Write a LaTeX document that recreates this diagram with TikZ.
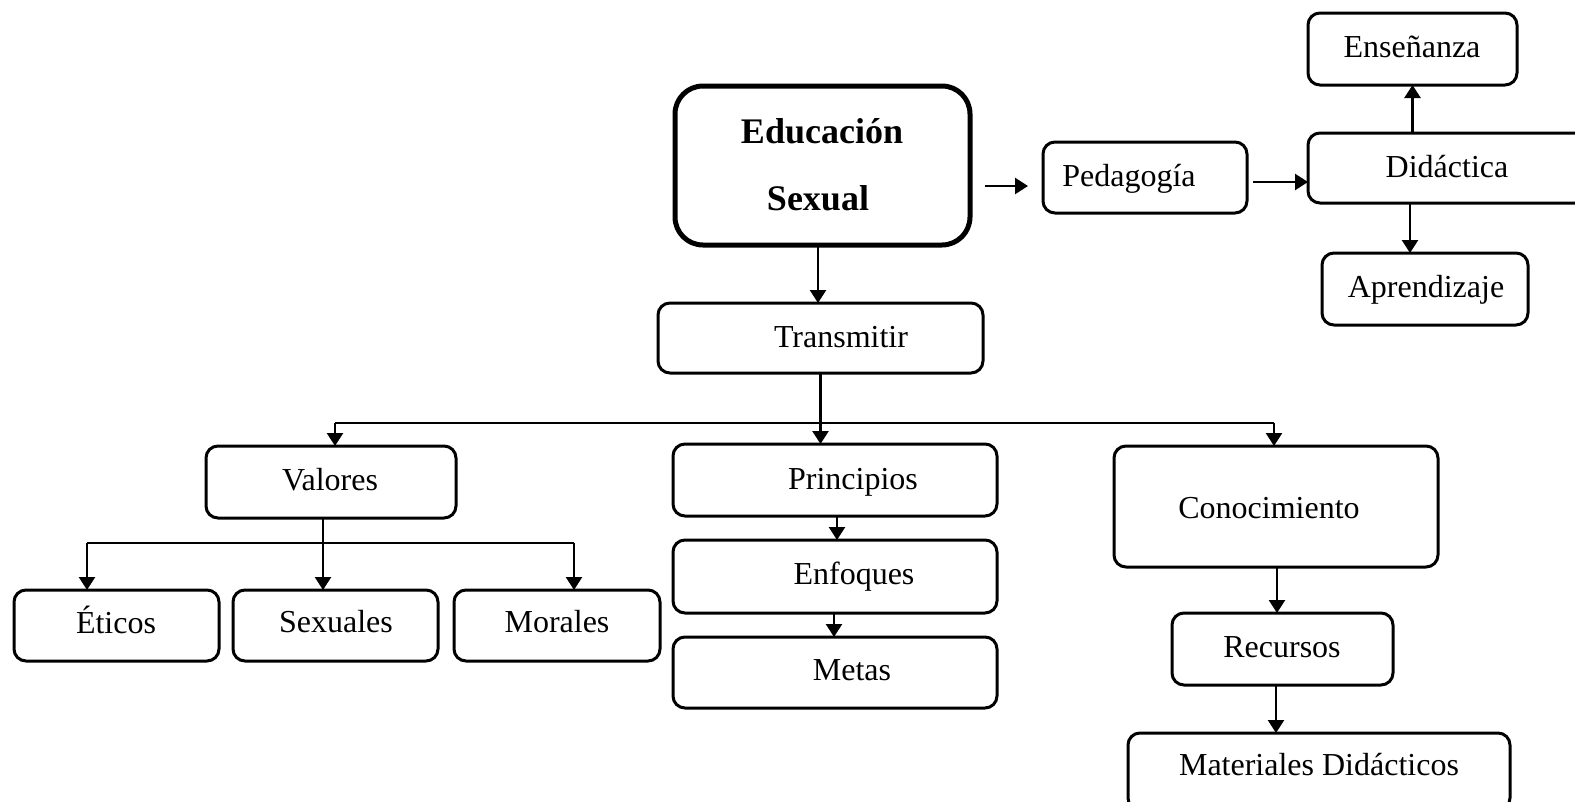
\documentclass[tikz,border=0pt]{standalone}
\usepackage{fontspec}
\setmainfont{Liberation Serif}
\usetikzlibrary{arrows.meta}
\tikzset{
  box/.style={draw=black, line width=3pt, rounded corners=12pt, inner sep=0pt, outer sep=0pt, fill=white},
  bigbox/.style={box, line width=5pt, rounded corners=28pt},
  txt/.style={anchor=base, inner sep=0pt, font=\fontsize{32}{38}\selectfont},
  btxt/.style={anchor=base, inner sep=0pt, font=\fontsize{36}{42}\selectfont\bfseries},
  arr/.style={line width=2.5pt, -{Triangle[length=13pt,width=16pt]}},
  branch/.style={line width=1.8pt}
}
\begin{document}
\begin{tikzpicture}[x=1pt,y=-1pt]
\useasboundingbox (0,0) rectangle (1575,801);
\clip (0,0) rectangle (1575,801);
\fill[white] (0,0) rectangle (1575,801);
% boxes
\node[bigbox, minimum width=295pt, minimum height=159pt] (edu) at (822.5,165.5) {};
\node[box, minimum width=204pt, minimum height=71pt] (ped) at (1145,177.5) {};
\node[box, minimum width=292pt, minimum height=70pt] (did) at (1454,168) {};
\node[box, minimum width=209pt, minimum height=72pt] (ens) at (1412.5,49) {};
\node[box, minimum width=206pt, minimum height=72pt] (apr) at (1425,289) {};
\node[box, minimum width=325pt, minimum height=70pt] (tra) at (820.5,338) {};
\node[box, minimum width=250pt, minimum height=72pt] (val) at (331,482) {};
\node[box, minimum width=205pt, minimum height=71pt] (eti) at (116.5,625.5) {};
\node[box, minimum width=205pt, minimum height=71pt] (sex) at (335.5,625.5) {};
\node[box, minimum width=206pt, minimum height=71pt] (mor) at (557,625.5) {};
\node[box, minimum width=324pt, minimum height=72pt] (pri) at (835,480) {};
\node[box, minimum width=324pt, minimum height=73pt] (enf) at (835,576.5) {};
\node[box, minimum width=324pt, minimum height=71pt] (met) at (835,672.5) {};
\node[box, minimum width=324pt, minimum height=121pt] (con) at (1276,506.5) {};
\node[box, minimum width=221pt, minimum height=72pt] (rec) at (1282.5,649) {};
\node[box, minimum width=382pt, minimum height=77pt] (mat) at (1319,771.5) {};
% texts
\node[btxt] (eduA) at (822,143) {Educación};
\node[btxt] (eduB) at (818,210) {Sexual};
\node[txt] (pedT) at (1129,186) {Pedagogía};
\node[txt] (didT) at (1447,177) {Didáctica};
\node[txt] (ensT) at (1412,57) {Enseñanza};
\node[txt] (aprT) at (1426,297) {Aprendizaje};
\node[txt] (traT) at (841,347) {Transmitir};
\node[txt] (valT) at (330,490) {Valores};
\node[txt] (etiT) at (116,633) {Éticos};
\node[txt] (sexT) at (336,632) {Sexuales};
\node[txt] (morT) at (557,632) {Morales};
\node[txt] (priT) at (853,489) {Principios};
\node[txt] (enfT) at (854,584) {Enfoques};
\node[txt] (metT) at (852,680) {Metas};
\node[txt] (conT) at (1269,518) {Conocimiento};
\node[txt] (recT) at (1282,657) {Recursos};
\node[txt] (matT) at (1319,775) {Materiales Didácticos};
% helper coordinates
\coordinate (xe) at (818,0);
\coordinate (fa) at (985,186);
\coordinate (fb) at (1028,186);
\coordinate (xd) at (1410,0);
\coordinate (bl) at (335,423);
\coordinate (br) at (1274,423);
\coordinate (xv) at (323,0);
\coordinate (vl) at (87,543);
\coordinate (vr) at (574,543);
\coordinate (xp) at (837,0);
\coordinate (xq) at (834,0);
\coordinate (xc) at (1277,0);
\coordinate (xr) at (1276,0);
% connectors
\draw[arr] (xe |- edu.south) -- (xe |- tra.north);
\draw[arr] (fa) -- (fb);
\draw[arr] ([xshift=6pt,yshift=-4.5pt]ped.east) -- ([yshift=-4.5pt]ped.east -| did.west);
\draw[arr] (ens.south |- did.north) -- (ens.south);
\draw[arr] (xd |- did.south) -- (xd |- apr.north);
\draw[arr] (tra.south) -- (tra.south |- pri.north);
\draw[branch] (bl) -- (br);
\draw[arr] (bl) -- (bl |- val.north);
\draw[arr] (br) -- (br |- con.north);
\draw[arr] (xv |- val.south) -- (xv |- sex.north);
\draw[branch] (vl) -- (vr);
\draw[arr] (vl) -- (vl |- eti.north);
\draw[arr] (vr) -- (vr |- mor.north);
\draw[arr] (xp |- pri.south) -- (xp |- enf.north);
\draw[arr] (xq |- enf.south) -- (xq |- met.north);
\draw[arr] (xc |- con.south) -- (xc |- rec.north);
\draw[arr] (xr |- rec.south) -- (xr |- mat.north);
\end{tikzpicture}
\end{document}
